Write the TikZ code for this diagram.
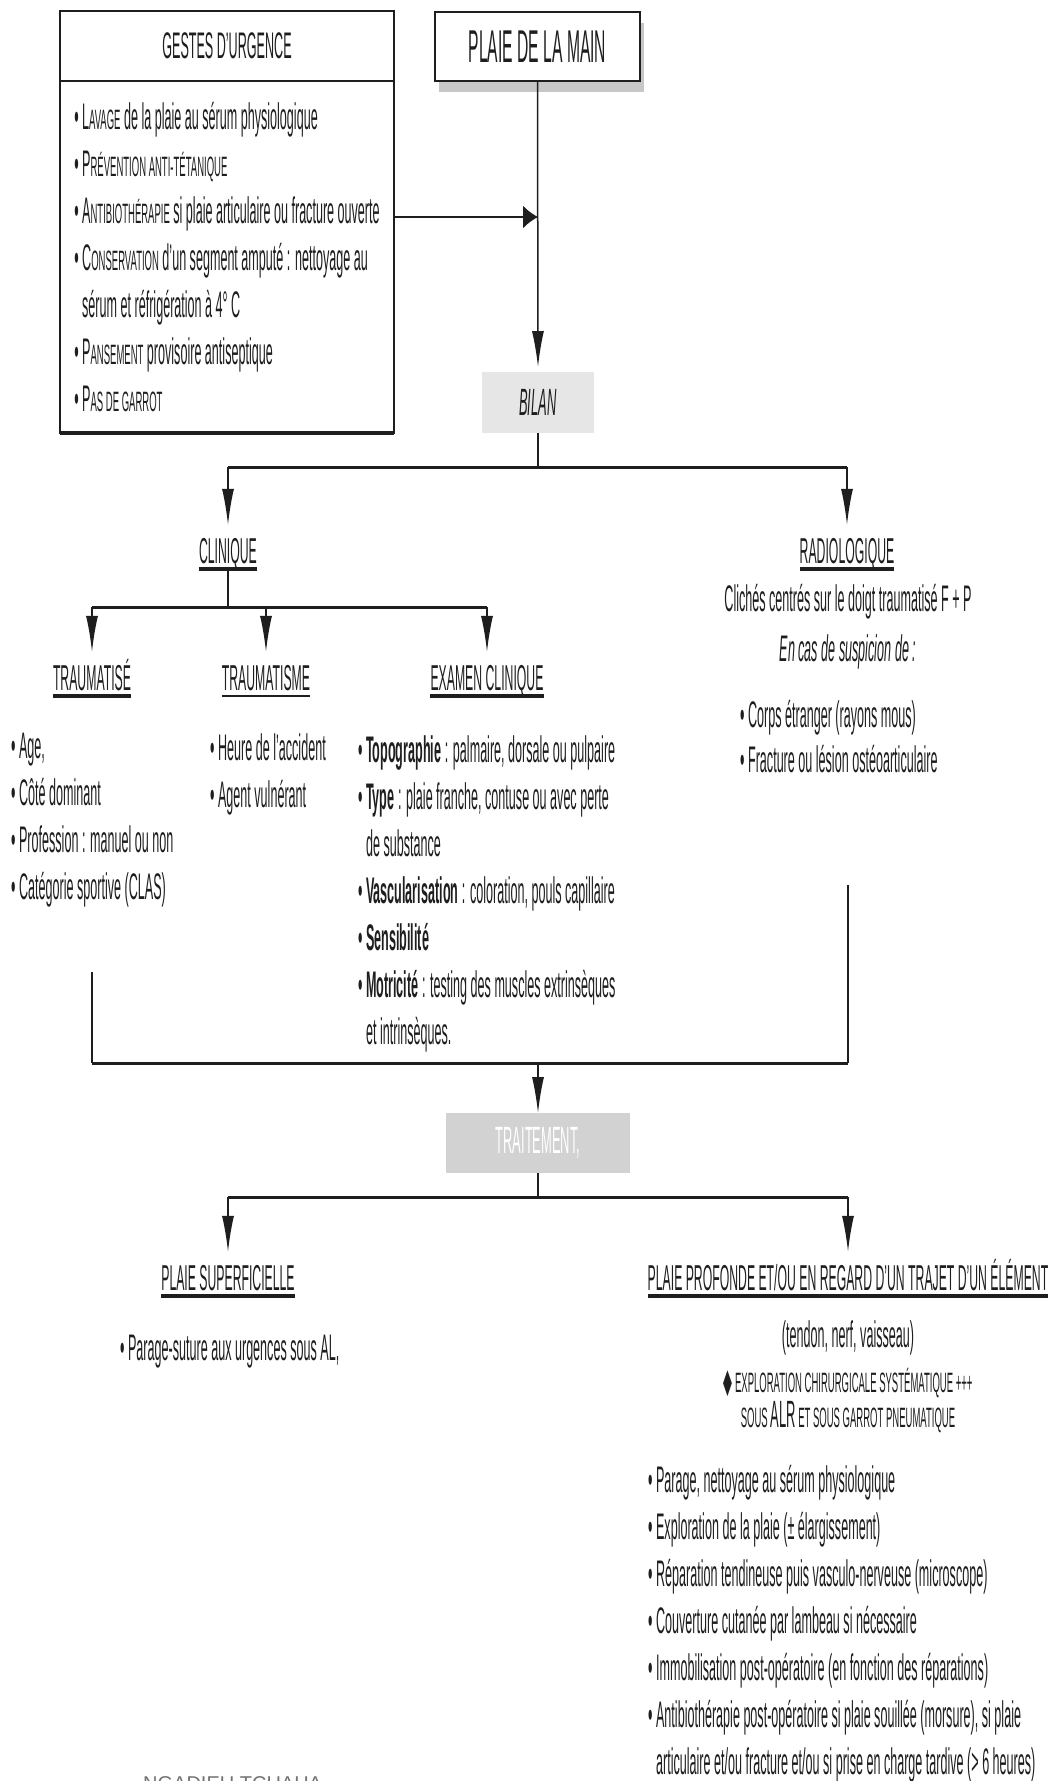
\documentclass[tikz,border=0pt]{standalone}
\usepackage{fontspec}
\setmainfont[FakeStretch=0.34]{Liberation Sans}
\newfontfamily\symfont[FakeStretch=0.34]{DejaVu Sans}
\newfontfamily\footfont{Liberation Sans}
\usetikzlibrary{positioning, arrows.meta, shadows}
\definecolor{ink}{HTML}{1e1e1e}
\definecolor{pale}{HTML}{e6e6e6}
\definecolor{midgrey}{HTML}{d2d2d2}
\newcommand{\bodyfont}{\fontsize{37}{47}\selectfont}
\newcommand{\headfont}{\fontsize{36}{40}\selectfont}
\newcommand{\pcap}[2]{#1{\fontsize{28}{28}\selectfont #2}}

\begin{document}
\begin{tikzpicture}[x=1pt, y=-1pt,
  every node/.style={text=ink},
  box/.style={rectangle, draw=ink, line width=2pt, fill=white, outer sep=0pt,
              minimum width=334pt, font=\bodyfont, align=left},
  titlebox/.style={rectangle, draw=ink, line width=2pt, fill=white,
              minimum width=205pt, minimum height=69pt,
              font=\fontsize{46}{46}\selectfont,
              drop shadow={shadow xshift=4pt, shadow yshift=-11pt,
                           fill=black!22, opacity=1}},
  greybox/.style={rectangle, outer sep=0pt, font=\fontsize{38}{38}\selectfont},
  headtxt/.style={anchor=base, inner sep=0pt, text height=27pt,
              text depth=6pt, font=\headfont},
  listtxt/.style={anchor=north west, inner sep=0pt, align=left, font=\bodyfont},
  plaintxt/.style={inner sep=0pt, align=center, font=\bodyfont},
  conn/.style={ink, line width=1.5pt},
  bus/.style={ink, line width=3pt},
  arr/.style={conn, -{Latex[length=36pt, width=12pt]}},
  harr/.style={conn, -{Latex[length=15pt, width=23pt]}},
  uline/.style={ink, line width=4pt}
]
\useasboundingbox (0,0) rectangle (1051,1781);

% top row
\node[box, minimum height=70pt] (gestes) at (227,46) {GESTES D'URGENCE};
\node[box, minimum height=352pt, below=0pt of gestes] (gestesl) {%
• \pcap{L}{AVAGE} de la plaie au sérum physiologique\\
• \pcap{P}{RÉVENTION ANTI-TÉTANIQUE}\\
• \pcap{A}{NTIBIOTHÉRAPIE} si plaie articulaire ou fracture ouverte\\
• \pcap{C}{ONSERVATION} d'un segment amputé : nettoyage au\\
\hphantom{• }sérum et réfrigération à 4° C\\
• \pcap{P}{ANSEMENT} provisoire antiseptique\\
• \pcap{P}{AS DE GARROT}};
\draw[line width=4pt, ink] (gestesl.south west) -- (gestesl.south east);

\node[titlebox] (main) at (537.5,46.5) {PLAIE DE LA MAIN};
\node[greybox, fill=pale, minimum width=112pt, minimum height=61pt,
      font=\fontsize{38}{38}\selectfont\itshape] (bilan) at (538,402.5) {BILAN};

% bilan
\node[headtxt] (clin)  at (228,563) {CLINIQUE};
\node[headtxt] (radio) at (847,563) {RADIOLOGIQUE};
\node[headtxt] (tse)   at (92,690)  {TRAUMATISÉ};
\node[headtxt] (tme)   at (266,690) {TRAUMATISME};
\node[headtxt] (exam)  at (487,690) {EXAMEN CLINIQUE};

\node[listtxt] (tsel) at (11,733) {• Age,\\ • Côté dominant\\
  • Profession : manuel ou non\\ • Catégorie sportive (CLAS)};
\node[listtxt] (tmel) at (210,733) {• Heure de l'accident\\ • Agent vulnérant};
\node[listtxt] (examl) at (358,735) {%
• \textbf{Topographie} : palmaire, dorsale ou pulpaire\\
• \textbf{Type} : plaie franche, contuse ou avec perte\\
\hphantom{• }de substance\\
• \textbf{Vascularisation} : coloration, pouls capillaire\\
• \textbf{Sensibilité}\\
• \textbf{Motricité} : testing des muscles extrinsèques\\
\hphantom{• }et intrinsèques.};

\node[plaintxt, anchor=north, font=\fontsize{37}{50}\selectfont] (radtxt) at (848,584)
  {Clichés centrés sur le doigt traumatisé F + P\\ \textit{En cas de suspicion de :}};
\node[listtxt, font=\fontsize{37}{45}\selectfont] (radl) at (740,700)
  {• Corps étranger (rayons mous)\\ • Fracture ou lésion ostéoarticulaire};

% traitement
\node[greybox, fill=midgrey, text=white, minimum width=184pt, minimum height=60pt]
  (traite) at (538,1143) {TRAITEMENT,};
\node[headtxt] (sup)  at (228,1290) {PLAIE SUPERFICIELLE};
\node[headtxt] (prof) at (848,1290) {PLAIE PROFONDE ET/OU EN REGARD D'UN TRAJET D'UN ÉLÉMENT};
\node[listtxt] (supl) at (120,1335) {• Parage-suture aux urgences sous AL,};
\node[plaintxt, below=24pt of prof] (tendon) {(tendon, nerf, vaisseau)};
\node[plaintxt, font=\fontsize{28}{35}\selectfont, below=13pt of tendon] (explo)
  {{\symfont\fontsize{34}{34}\selectfont ◆} EXPLORATION CHIRURGICALE SYSTÉMATIQUE +++\\
   SOUS {\fontsize{38}{38}\selectfont ALR} ET SOUS GARROT PNEUMATIQUE};
\node[listtxt] (profl) at (648,1465) {%
• Parage, nettoyage au sérum physiologique\\
• Exploration de la plaie (± élargissement)\\
• Réparation tendineuse puis vasculo-nerveuse (microscope)\\
• Couverture cutanée par lambeau si nécessaire\\
• Immobilisation post-opératoire (en fonction des réparations)\\
• Antibiothérapie post-opératoire si plaie souillée (morsure), si plaie\\
\hphantom{• }articulaire et/ou fracture et/ou si prise en charge tardive (> 6 heures)};

\node[anchor=north west, inner sep=0pt, text=black!55,
      font=\footfont\fontsize{20}{20}\selectfont] (foot) at (143,1776) {NGADIEU TCHAHA};

% underlines
\foreach \n in {clin, radio, tse, exam, sup, prof}
  \draw[uline] (\n.south west) -- (\n.south east);
\draw[ink, line width=2pt] (tme.south west) -- (tme.south east);

% connectors
\coordinate (jg) at (538,217);
\coordinate (bus1) at (0,467);
\coordinate (bus2) at (0,607);
\coordinate (bus3) at (0,1063);
\coordinate (bus4) at (0,1197);
\coordinate (tsefoot) at (92,972);
\coordinate (radfoot) at (848,885);

\draw[arr] (main.south) -- ([yshift=5pt]bilan.north);
\draw[harr] (gestesl.east |- jg) -- (jg);

\draw[conn] (bilan.south) -- (bilan.south |- bus1);
\draw[bus] (clin |- bus1) -- (radio |- bus1);
\draw[arr] (clin |- bus1) -- ([yshift=11pt]clin.north);
\draw[arr] (radio |- bus1) -- ([yshift=11pt]radio.north);

\draw[conn] (clin.south) -- (clin.south |- bus2);
\draw[bus] (tse |- bus2) -- (exam |- bus2);
\draw[arr] (tse |- bus2) -- ([yshift=11pt]tse.north);
\draw[arr] (tme |- bus2) -- ([yshift=11pt]tme.north);
\draw[arr] (exam |- bus2) -- ([yshift=11pt]exam.north);

\draw[conn] (tsefoot) -- (tsefoot |- bus3);
\draw[conn] (radfoot) -- (radfoot |- bus3);
\draw[bus] (tsefoot |- bus3) -- (radfoot |- bus3);
\draw[arr] (traite.north |- bus3) -- (traite.north);

\draw[conn] (traite.south) -- (traite.south |- bus4);
\draw[bus] (sup |- bus4) -- (prof |- bus4);
\draw[arr] (sup |- bus4) -- ([yshift=11pt]sup.north);
\draw[arr] (prof |- bus4) -- ([yshift=11pt]prof.north);
\end{tikzpicture}
\end{document}
